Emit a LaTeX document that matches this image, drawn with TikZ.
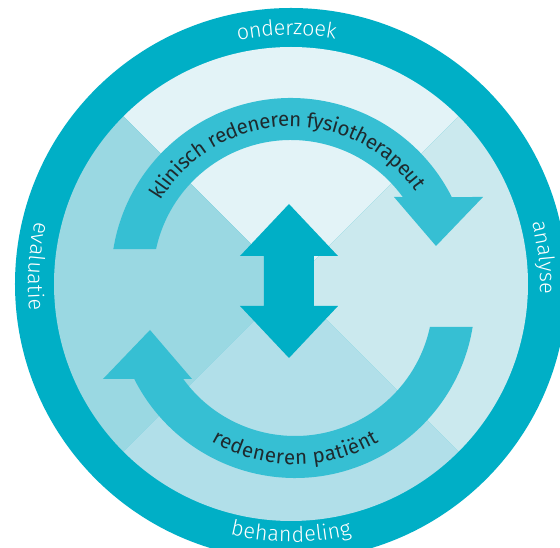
\documentclass[tikz,border=0pt]{standalone}
\usepackage{fontspec}
\setmainfont{Fira Sans}
\newfontfamily\ringfont{Fira Sans Light}
\usetikzlibrary{decorations.text}

\definecolor{ringblue}{HTML}{00AFC6}
\definecolor{bandblue}{HTML}{36BFD3}
\definecolor{quadtop}{HTML}{E3F3F7}
\definecolor{quadleft}{HTML}{9AD8E2}
\definecolor{quadright}{HTML}{CBE9EE}
\definecolor{quadbottom}{HTML}{B1DFE9}
\definecolor{inkdark}{HTML}{1E2A2E}

\tikzset{
  turnarrow/.pic={
    \fill[bandblue] (170.73:180) arc[start angle=170.73, end angle=26.74, radius=180]
      -- (192,81) -- (145,32) -- (103,81) -- (35.94:138)
      arc[start angle=35.94, end angle=167.87, radius=138] -- cycle;
  },
  ringlabel/.style={decorate, decoration={text along path, text align=center,
    raise=-7pt, text={|\color{white}\ringfont\fontsize{21.5}{21.5}\selectfont|#1}}},
  bandlabel/.style={decorate, decoration={text along path, text align=center,
    raise=-6.5pt, text={|\color{inkdark}\fontsize{20.5}{20.5}\selectfont|#1}}}
}

\begin{document}
\begin{tikzpicture}[x=1pt,y=1pt]
\clip (-291,-264) rectangle (269,284);
\fill[white] (-291,-264) rectangle (269,284);

% ring and the four sectors
\fill[ringblue] (0,0) circle[radius=276];
\fill[quadtop] (0,0) -- (45:237) arc[start angle=45, end angle=135, radius=237] -- cycle;
\fill[quadleft] (0,0) -- (135:237) arc[start angle=135, end angle=225, radius=237] -- cycle;
\fill[quadbottom] (0,0) -- (225:237) arc[start angle=225, end angle=315, radius=237] -- cycle;
\fill[quadright] (0,0) -- (-45:237) arc[start angle=-45, end angle=45, radius=237] -- cycle;

% the two turning arrows
\pic at (0,6) {turnarrow};
\pic[rotate=180] at (4,-14) {turnarrow};

% arrow up and down in the middle
\fill[ringblue] (-2,80) -- (47,28) -- (23,28) -- (23,-22) -- (47,-22) -- (-2,-74)
  -- (-51,-22) -- (-27,-22) -- (-27,28) -- (-51,28) -- cycle;

\path[bandlabel={klinisch redeneren fysiotherapeut}] (0,6) ++(172:158)
  arc[start angle=172, end angle=12, radius=158];
\path[bandlabel={redeneren patiënt}] (4,-14) ++(210:160)
  arc[start angle=210, end angle=330, radius=160];

\path[ringlabel={onderzoek}] (120:256) arc[start angle=120, end angle=62, radius=256];
\path[ringlabel={analyse}] (36:256) arc[start angle=36, end angle=-24, radius=256];
\path[ringlabel={behandeling}] (235:251) arc[start angle=235, end angle=305, radius=251];
\path[ringlabel={evaluatie}] (146:256) arc[start angle=146, end angle=206, radius=256];
\end{tikzpicture}
\end{document}
